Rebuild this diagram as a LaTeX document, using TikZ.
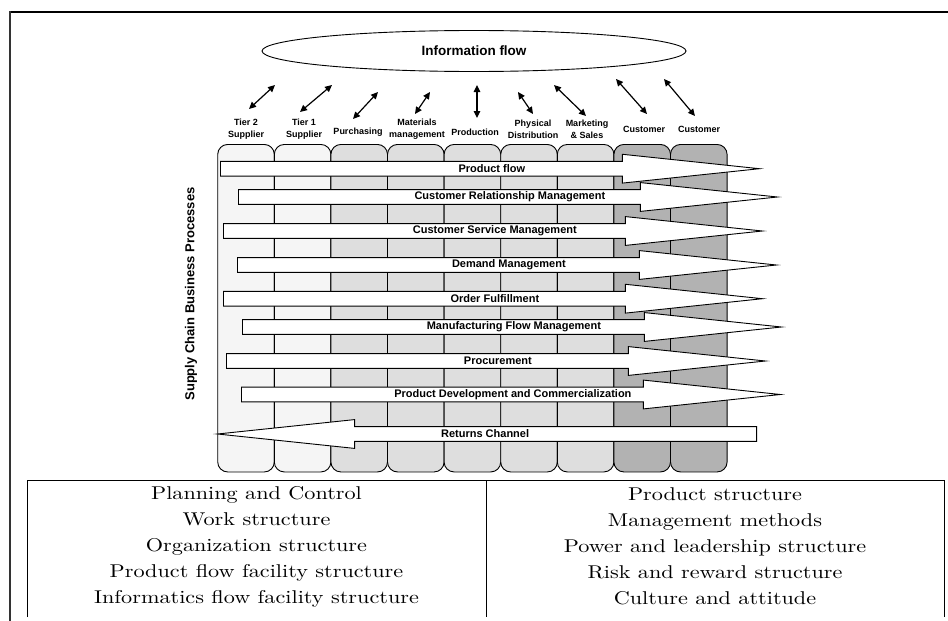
\documentclass[tikz,border=0pt]{standalone}
\usepackage{fontspec}
\newfontfamily\arialfont{Liberation Sans}
\newfontfamily\tablefont[FakeStretch=1.2]{lmroman10-regular.otf}
\usetikzlibrary{shapes.geometric,shapes.arrows,arrows.meta}
\definecolor{lanelight}{gray}{0.96}
\definecolor{lanemid}{gray}{0.87}
\definecolor{lanedark}{gray}{0.70}
\tikzset{
    lane/.style={
        draw,
        line width=0.9pt,
        rounded corners=10pt,
        minimum width=56.6pt,
        minimum height=327.5pt,
        inner sep=0pt
    },
    header/.style={
        font=\arialfont\bfseries\fontsize{9}{12}\selectfont,
        align=center,
        inner sep=0pt
    },
    infolink/.style={
        {Triangle[length=7pt,width=6.5pt]}-{Triangle[length=7pt,width=6.5pt]},
        line width=1.2pt
    },
    flow/.style={
        single arrow,
        draw,
        fill=white,
        line width=0.9pt,
        minimum height=539pt,
        single arrow tip angle=12,
        single arrow head extend=7pt,
        text height=7.5pt,
        text depth=2pt,
        inner ysep=2.2pt,
        inner xsep=0pt,
        anchor=tail
    },
    flowtext/.style={
        font=\arialfont\bfseries\fontsize{11}{12}\selectfont,
        inner sep=0pt
    },
    tabtext/.style={
        font=\tablefont\fontsize{18.5}{26}\selectfont,
        align=center
    }
}

\begin{document}
\begin{tikzpicture}[x=1pt,y=-1pt]
\useasboundingbox (0,0) rectangle (948,621);
% outer frame
\draw[line width=2.5pt] (9,12) -- (948,12);
\draw[line width=2pt,black!80] (10,11) -- (10,621);

\node[ellipse,draw,line width=0.9pt,minimum width=424pt,minimum height=41pt,
  font=\arialfont\bfseries\fontsize{13.5}{15}\selectfont] (info) at (474,51) {Information flow};

% lanes
\node[lane,fill=lanelight] (tier2) at (246.0,308.2) {};
\node[lane,fill=lanelight] (tier1) at (302.6,308.2) {};
\node[lane,fill=lanemid] (purch) at (359.2,308.2) {};
\node[lane,fill=lanemid] (matman) at (415.8,308.2) {};
\node[lane,fill=lanemid] (prod) at (472.4,308.2) {};
\node[lane,fill=lanemid] (physdist) at (529.0,308.2) {};
\node[lane,fill=lanemid] (mktsales) at (585.6,308.2) {};
\node[lane,fill=lanedark] (cust1) at (642.2,308.2) {};
\node[lane,fill=lanedark] (cust2) at (698.8,308.2) {};

\node[header] (tier2lbl) at (246,129) {Tier 2\\Supplier};
\node[header] (tier1lbl) at (304,129) {Tier 1\\Supplier};
\node[header] (purchlbl) at (358,132) {Purchasing};
\node[header] (matmanlbl) at (417,129) {Materials\\management};
\node[header] (prodlbl) at (475,132) {Production};
\node[header] (physdistlbl) at (533,129) {Physical\\Distribution};
\node[header] (mktsaleslbl) at (587,129) {Marketing\\\& Sales};
\node[header] (cust1lbl) at (644,129) {Customer};
\node[header] (cust2lbl) at (699,129) {Customer};

% links to the information flow
\coordinate (tier2a) at (249,109);   \coordinate (tier2b) at (275,85);
\coordinate (tier1a) at (300,112);   \coordinate (tier1b) at (332,85);
\coordinate (purcha) at (353,119);   \coordinate (purchb) at (378,92);
\coordinate (matmana) at (415,114);  \coordinate (matmanb) at (430,92);
\coordinate (proda) at (477,118);    \coordinate (prodb) at (477,85);
\coordinate (physdista) at (533,114); \coordinate (physdistb) at (518,92);
\coordinate (mktsalesa) at (586,116); \coordinate (mktsalesb) at (554,85);
\coordinate (cust1a) at (647,114);   \coordinate (cust1b) at (616,79);
\coordinate (cust2a) at (695,116);   \coordinate (cust2b) at (664,79);
\draw[infolink] (tier2a) -- (tier2b);
\draw[infolink] (tier1a) -- (tier1b);
\draw[infolink] (purcha) -- (purchb);
\draw[infolink] (matmana) -- (matmanb);
\draw[infolink] (proda) -- (prodb);
\draw[infolink] (physdista) -- (physdistb);
\draw[infolink] (mktsalesa) -- (mktsalesb);
\draw[infolink] (cust1a) -- (cust1b);
\draw[infolink] (cust2a) -- (cust2b);

% business processes
\node[flow] (pflow) at (220,168.7) {};
\node[flow] (crm) at (238,197) {};
\node[flow] (csm) at (223,231) {};
\node[flow] (demand) at (237,265) {};
\node[flow] (order) at (223,298.7) {};
\node[flow] (mfm) at (242,327) {};
\node[flow] (procure) at (226,361) {};
\node[flow] (pdc) at (241,394.5) {};
\node[flow,shape border rotate=180] (returns) at (757,434) {};
\path (pflow.tail) -- node[flowtext] (pflowtxt) {Product flow} (pflow.tip);
\path (crm.tail) -- node[flowtext] (crmtxt) {Customer Relationship Management} (crm.tip);
\path (csm.tail) -- node[flowtext] (csmtxt) {Customer Service Management} (csm.tip);
\path (demand.tail) -- node[flowtext] (demandtxt) {Demand Management} (demand.tip);
\path (order.tail) -- node[flowtext] (ordertxt) {Order Fulfillment} (order.tip);
\path (mfm.tail) -- node[flowtext] (mfmtxt) {Manufacturing Flow Management} (mfm.tip);
\path (procure.tail) -- node[flowtext] (procuretxt) {Procurement} (procure.tip);
\path (pdc.tail) -- node[flowtext] (pdctxt) {Product Development and Commercialization} (pdc.tip);
\path (returns.tail) -- node[flowtext] (returnstxt) {Returns Channel} (returns.tip);

\node[rotate=90,font=\arialfont\bfseries\fontsize{13}{15}\selectfont] (scbp) at (191,294) {Supply Chain Business Processes};

% table
\draw[line width=0.8pt] (27,617) |- (944,480) -- (944,617);
\draw[line width=0.8pt] (486,480) -- (486,617);
\node[tabtext] (infra) at (256.5,546.5) {Planning and Control\\Work structure\\Organization structure\\Product flow facility structure\\Informatics flow facility structure};
\node[tabtext] (mgmt) at (715,546.5) {Product structure\\Management methods\\Power and leadership structure\\Risk and reward structure\\Culture and attitude};
\end{tikzpicture}
\end{document}
